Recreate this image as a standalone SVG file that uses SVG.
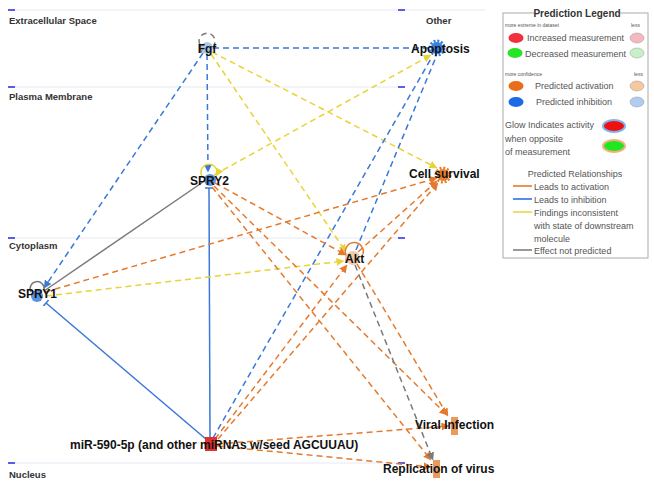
<svg xmlns="http://www.w3.org/2000/svg" width="654" height="484" viewBox="0 0 654 484">
<style>
.bg{fill:#ffffff}
.comp{stroke:#eef0f8;stroke-width:1.5}
.tick{stroke:#2a2ae6;stroke-width:1.5}
.clab{font-family:"Liberation Sans",Arial,sans-serif;font-size:9.5px;font-weight:bold;fill:#333}
.nlab{font-family:"Liberation Sans",Arial,sans-serif;font-size:12px;font-weight:bold;fill:#111}
.e{fill:none;stroke-width:1.5}
.d{stroke-dasharray:6 4}
.or{stroke:#e57a2e}
.bl{stroke:#3a78d9}
.ye{stroke:#e8d436}
.gr{stroke:#7a7a7a}
.lt{font-family:"Liberation Sans",Arial,sans-serif;font-size:9px;fill:#555}
.tiny{font-family:"Liberation Sans",Arial,sans-serif;font-size:5px;fill:#555}
</style>
<defs>
<marker id="aO" viewBox="0 0 8 8" refX="7.5" refY="4" markerWidth="8" markerHeight="8" markerUnits="userSpaceOnUse" orient="auto"><path d="M0,0 L8,4 L0,8 z" fill="#e57a2e"/></marker>
<marker id="aB" viewBox="0 0 8 8" refX="7.5" refY="4" markerWidth="8" markerHeight="8" markerUnits="userSpaceOnUse" orient="auto"><path d="M0,0 L8,4 L0,8 z" fill="#3a78d9"/></marker>
<marker id="aY" viewBox="0 0 8 8" refX="7.5" refY="4" markerWidth="8" markerHeight="8" markerUnits="userSpaceOnUse" orient="auto"><path d="M0,0 L8,4 L0,8 z" fill="#e8d436"/></marker>
<marker id="aG" viewBox="0 0 8 8" refX="7.5" refY="4" markerWidth="8" markerHeight="8" markerUnits="userSpaceOnUse" orient="auto"><path d="M0,0 L8,4 L0,8 z" fill="#7a7a7a"/></marker>
<marker id="tB" viewBox="0 0 4 8" refX="2" refY="4" markerWidth="4" markerHeight="8" markerUnits="userSpaceOnUse" orient="auto"><path d="M2,0 L2,8" stroke="#3a78d9" stroke-width="1.5"/></marker>
</defs>
<rect class="bg" x="0" y="0" width="654" height="484"/>

<g id="compartments">
<line class="comp" x1="8" y1="10" x2="485" y2="10"/>
<line class="comp" x1="8" y1="87" x2="400" y2="87"/>
<line class="comp" x1="8" y1="238" x2="400" y2="238"/>
<line class="comp" x1="8" y1="463" x2="405" y2="463"/>
<line class="tick" x1="8" y1="10" x2="15" y2="10"/>
<line class="tick" x1="8" y1="87" x2="15" y2="87"/>
<line class="tick" x1="8" y1="238" x2="15" y2="238"/>
<line class="tick" x1="8" y1="463" x2="15" y2="463"/>
<line class="tick" x1="398" y1="10" x2="405" y2="10"/>
<line class="tick" x1="398" y1="87" x2="405" y2="87"/>
<line class="tick" x1="398" y1="238" x2="405" y2="238"/>
<line class="tick" x1="398" y1="463" x2="405" y2="463"/>
<text class="clab" x="9" y="24">Extracellular Space</text>
<text class="clab" x="9" y="100">Plasma Membrane</text>
<text class="clab" x="9" y="249">Cytoplasm</text>
<text class="clab" x="9" y="478">Nucleus</text>
<text class="clab" x="426" y="24">Other</text>
</g>

<g id="connectors">
<line class="e d bl" x1="213" y1="48" x2="430" y2="48"/>
<line class="e d bl" x1="207" y1="54" x2="208" y2="172" marker-end="url(#aB)"/>
<line class="e d bl" x1="203" y1="53" x2="44" y2="288" marker-end="url(#aB)"/>
<line class="e d ye" x1="212" y1="52" x2="437" y2="168" marker-end="url(#aY)"/>
<line class="e d ye" x1="211" y1="54" x2="346" y2="252" marker-end="url(#aY)"/>
<line class="e d ye" x1="214" y1="175" x2="431" y2="55" marker-end="url(#aY)"/>
<line class="e gr" x1="44" y1="291" x2="203" y2="182"/>
<line class="e bl" x1="210" y1="438" x2="209" y2="188" marker-end="url(#tB)"/>
<line class="e bl" x1="207" y1="440" x2="46" y2="303" marker-end="url(#tB)"/>
<line class="e d bl" x1="213" y1="438" x2="432" y2="57"/>
<line class="e d bl" x1="356" y1="250" x2="436" y2="57"/>
<line class="e d or" x1="45" y1="292" x2="437" y2="178" marker-end="url(#aO)"/>
<line class="e d ye" x1="46" y1="296" x2="344" y2="261" marker-end="url(#aY)"/>
<line class="e d or" x1="215" y1="183" x2="346" y2="255" marker-end="url(#aO)"/>
<line class="e d or" x1="214" y1="186" x2="447" y2="415" marker-end="url(#aO)"/>
<line class="e d or" x1="212" y1="187" x2="431" y2="460" marker-end="url(#aO)"/>
<line class="e d or" x1="358" y1="252" x2="437" y2="181" marker-end="url(#aO)"/>
<line class="e d or" x1="357" y1="264" x2="448" y2="416" marker-end="url(#aO)"/>
<line class="e d gr" x1="355" y1="265" x2="433" y2="460" marker-end="url(#aG)"/>
<line class="e d or" x1="215" y1="439" x2="347" y2="265" marker-end="url(#aO)"/>
<line class="e d or" x1="218" y1="439" x2="438" y2="183" marker-end="url(#aO)"/>
<line class="e d or" x1="217" y1="444" x2="449" y2="426" marker-end="url(#aO)"/>
<line class="e d or" x1="217" y1="446" x2="431" y2="467" marker-end="url(#aO)"/>
<path class="e d gr" d="M200,45 A8,8 0 1 1 214,45" stroke-dasharray="3 2" marker-start="url(#aG)"/>
<path class="e ye" d="M202,176 A8,8 0 1 1 216,176" marker-end="url(#aY)"/>
<path class="e gr" d="M31,292 A7,7 0 1 1 44,290"/>
<path class="e or" d="M346,255 A9,9 0 1 1 363,254" marker-start="url(#aO)"/>
</g>

<g id="node-fgf">
<circle cx="207" cy="48" r="6" fill="#a9c8ef"/>
<text class="nlab" x="207" y="53" text-anchor="middle">Fgf</text>
</g>
<g id="node-apoptosis">
<circle cx="437" cy="48" r="6" fill="#3a80e0"/>
<circle cx="437" cy="48" r="7" fill="none" stroke="#3a80e0" stroke-width="3" stroke-dasharray="2 1.67"/>
<text class="nlab" x="411" y="53">Apoptosis</text>
</g>
<g id="node-spry2">
<circle cx="210" cy="180" r="6" fill="#5a93e0"/>
<text class="nlab" x="190" y="185">SPRY2</text>
</g>
<g id="node-spry1">
<circle cx="37" cy="296" r="6" fill="#5a93e0"/>
<text class="nlab" x="18" y="298">SPRY1</text>
</g>
<g id="node-akt">
<circle cx="353" cy="258" r="7" fill="#f3c9a8"/>
<text class="nlab" x="345" y="263">Akt</text>
</g>
<g id="node-cellsurvival">
<circle cx="443" cy="175" r="6" fill="#e8812f"/>
<circle cx="443" cy="175" r="7" fill="none" stroke="#e8812f" stroke-width="3" stroke-dasharray="2 1.67"/>
<text class="nlab" x="409" y="178">Cell survival</text>
</g>
<g id="node-mir">
<rect x="205" y="437" width="12" height="14" fill="#e03030"/>
<text class="nlab" x="70" y="449">miR-590-5p (and other miRNAs w/seed AGCUUAU)</text>
</g>
<g id="node-viral">
<rect x="451" y="417" width="7" height="18" fill="#eb9a5c"/>
<text class="nlab" x="415" y="429">Viral Infection</text>
</g>
<g id="node-replication">
<rect x="433" y="460" width="7" height="18" fill="#eb9a5c"/>
<text class="nlab" x="383" y="473">Replication of virus</text>
</g>

<g id="legend">
<rect x="503" y="13" width="145" height="245" fill="#fff" stroke="#aaa" stroke-width="1"/>
<rect x="535" y="8" width="84" height="10" fill="#fff"/>
<text x="577" y="17" text-anchor="middle" font-family="Liberation Sans,Arial,sans-serif" font-size="10" font-weight="bold" fill="#333">Prediction Legend</text>
<text class="tiny" x="505" y="27">more extreme in dataset</text>
<text class="tiny" x="631" y="27">less</text>
<ellipse cx="516" cy="38" rx="7.5" ry="5" fill="#f0303a"/>
<text class="lt" x="527" y="41">Increased measurement</text>
<ellipse cx="637" cy="38" rx="7" ry="5" fill="#f6b8bf" stroke="#999" stroke-width="0.5"/>
<ellipse cx="515" cy="53" rx="7.5" ry="5" fill="#28e428"/>
<text class="lt" x="525" y="57">Decreased measurement</text>
<ellipse cx="637" cy="53" rx="7" ry="5" fill="#c8f0c8" stroke="#999" stroke-width="0.5"/>
<text class="tiny" x="505" y="76">more confidence</text>
<text class="tiny" x="634" y="76">less</text>
<ellipse cx="516" cy="86" rx="7.5" ry="5" fill="#e86e1c"/>
<text class="lt" x="535" y="89">Predicted activation</text>
<ellipse cx="637" cy="86" rx="7" ry="5" fill="#f6c8a0" stroke="#999" stroke-width="0.5"/>
<ellipse cx="516" cy="102" rx="7.5" ry="5" fill="#1c6ae6"/>
<text class="lt" x="536" y="105">Predicted inhibition</text>
<ellipse cx="637" cy="102" rx="7" ry="5" fill="#b0ccf0" stroke="#999" stroke-width="0.5"/>
<text class="lt" x="505" y="128">Glow Indicates activity</text>
<text class="lt" x="505" y="142">when opposite</text>
<text class="lt" x="505" y="155">of measurement</text>
<ellipse cx="614" cy="126" rx="11" ry="6" fill="#f01010" stroke="#7fb2f0" stroke-width="2"/>
<ellipse cx="614" cy="146" rx="11" ry="6" fill="#22e622" stroke="#f0b27f" stroke-width="2"/>
<text class="lt" x="575" y="177" text-anchor="middle">Predicted Relationships</text>
<line x1="513" y1="186" x2="532" y2="186" stroke="#e86e1c" stroke-width="1.5"/>
<text class="lt" x="534" y="190">Leads to activation</text>
<line x1="513" y1="199" x2="532" y2="199" stroke="#1c6ae6" stroke-width="1.5"/>
<text class="lt" x="534" y="203">Leads to inhibition</text>
<line x1="513" y1="212" x2="532" y2="212" stroke="#e8d436" stroke-width="1.5"/>
<text class="lt" x="534" y="216">Findings inconsistent</text>
<text class="lt" x="534" y="229">with state of downstream</text>
<text class="lt" x="534" y="242">molecule</text>
<line x1="513" y1="250" x2="532" y2="250" stroke="#777" stroke-width="1.5"/>
<text class="lt" x="534" y="254">Effect not predicted</text>
</g>
</svg>
